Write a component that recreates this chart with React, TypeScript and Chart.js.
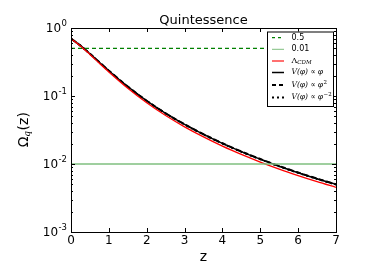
import React, { useEffect, useRef } from "react";
import { Chart, registerables } from "chart.js";

Chart.register(...registerables);

const zValues = [0, 0.25, 0.5, 0.75, 1, 1.5, 2, 2.5, 3, 3.5, 4, 4.5, 5, 5.5, 6, 6.5, 7];
const lcdm = [0.7, 0.544, 0.409, 0.303, 0.226, 0.13, 0.0795, 0.0516, 0.0352, 0.025, 0.0183, 0.01383, 0.01069, 0.00842, 0.00676, 0.0055, 0.00454];
const vPhi = [0.7, 0.55, 0.418, 0.313, 0.235, 0.137, 0.0848, 0.0555, 0.0382, 0.0273, 0.0201, 0.0152, 0.01178, 0.00928, 0.00745, 0.00606, 0.005];
const vPhi2 = [0.7, 0.551, 0.419, 0.314, 0.236, 0.1375, 0.0851, 0.0557, 0.0384, 0.0274, 0.0202, 0.01528, 0.01184, 0.00933, 0.00749, 0.00609, 0.00503];
const vPhiM2 = [0.7, 0.549, 0.417, 0.312, 0.234, 0.1365, 0.0845, 0.0553, 0.038, 0.0272, 0.02, 0.01512, 0.01172, 0.00923, 0.00741, 0.00603, 0.00497];
const level05 = 0.5;
const level001 = 0.01;
const xTicks = [0, 1, 2, 3, 4, 5, 6, 7];
const yExponents = [0, -1, -2, -3];
const legendLabels = ["0.5", "0.01", "ΛCDM", "V(φ) ∝ φ", "V(φ) ∝ φ2", "V(φ) ∝ φ-2"];

const pts = (ys: number[]) => zValues.map((z, i) => ({ x: z, y: ys[i] }));

const overlay = {
  id: "mplOverlay",
  afterDraw(chart: any) {
    const { ctx, chartArea: a, scales } = chart;
    const xs = scales.x;
    const ys = scales.y;
    ctx.save();
    ctx.strokeStyle = "#000";
    ctx.lineWidth = 1;
    ctx.lineCap = "butt";
    ctx.strokeRect(Math.round(a.left) + 0.5, Math.round(a.top) + 0.5, Math.round(a.right - a.left), Math.round(a.bottom - a.top));
    ctx.beginPath();
    for (const t of xTicks) {
      const px = Math.round(xs.getPixelForValue(t)) + 0.5;
      ctx.moveTo(px, a.bottom); ctx.lineTo(px, a.bottom - 4);
      ctx.moveTo(px, a.top); ctx.lineTo(px, a.top + 4);
    }
    for (const e of yExponents) {
      const py = Math.round(ys.getPixelForValue(Math.pow(10, e))) + 0.5;
      ctx.moveTo(a.left, py); ctx.lineTo(a.left + 4, py);
      ctx.moveTo(a.right, py); ctx.lineTo(a.right - 4, py);
      if (e > -3) {
        for (let m = 2; m <= 9; m++) {
          const v = m * Math.pow(10, e - 1);
          const my = Math.round(ys.getPixelForValue(v)) + 0.5;
          ctx.moveTo(a.left, my); ctx.lineTo(a.left + 2, my);
          ctx.moveTo(a.right, my); ctx.lineTo(a.right - 2, my);
        }
      }
    }
    ctx.stroke();
    ctx.fillStyle = "#000";
    ctx.font = "12px 'DejaVu Sans'";
    ctx.textAlign = "center";
    ctx.textBaseline = "top";
    for (const t of xTicks) {
      ctx.fillText(String(t), xs.getPixelForValue(t), a.bottom + 3);
    }
    for (const e of yExponents) {
      const py = ys.getPixelForValue(Math.pow(10, e));
      const sup = String(e);
      ctx.font = "8.5px 'DejaVu Sans'";
      const sw = ctx.measureText(sup).width;
      ctx.textAlign = "left";
      ctx.textBaseline = "middle";
      const supX = a.left - 4 - sw;
      ctx.fillText(sup, supX, py - 4);
      ctx.font = "12px 'DejaVu Sans'";
      ctx.textAlign = "right";
      ctx.fillText("10", supX - 0.5, py + 1);
    }
    ctx.font = "13px 'DejaVu Sans'";
    ctx.textAlign = "center";
    ctx.textBaseline = "alphabetic";
    ctx.fillText("Quintessence", (a.left + a.right) / 2, a.top - 4);
    ctx.font = "14px 'DejaVu Sans'";
    ctx.textBaseline = "middle";
    ctx.fillText("z", (a.left + a.right) / 2, 257);
    ctx.save();
    ctx.translate(24, (a.top + a.bottom) / 2);
    ctx.rotate(-Math.PI / 2);
    ctx.textAlign = "left";
    ctx.textBaseline = "middle";
    ctx.font = "14px 'DejaVu Sans'";
    const om = "Ω";
    const omW = ctx.measureText(om).width;
    ctx.font = "italic 9px 'DejaVu Serif'";
    const qW = ctx.measureText("q").width;
    ctx.font = "14px 'DejaVu Sans'";
    const rest = "(z)";
    const rW = ctx.measureText(rest).width;
    const x0 = -(omW + qW + rW) / 2;
    ctx.fillText(om, x0, 0);
    ctx.font = "italic 9px 'DejaVu Serif'";
    ctx.fillText("q", x0 + omW, 4);
    ctx.font = "14px 'DejaVu Sans'";
    ctx.fillText(rest, x0 + omW + qW + 0.5, 0);
    ctx.restore();

    const lx = 267, ly = 31.5, lw = 66, lh = 74.5;
    ctx.fillStyle = "#fff";
    ctx.fillRect(lx, ly, lw, lh);
    ctx.strokeStyle = "#000";
    ctx.lineWidth = 1;
    ctx.strokeRect(lx + 0.5, ly + 0.5, lw, lh);
    const rows = [37.7, 49.3, 61, 72.5, 85, 97.5];
    const styles = [
      { c: "#008000", w: 1.2, d: [3, 3] },
      { c: "#7fbf7f", w: 1, d: [] },
      { c: "#ff4040", w: 1.5, d: [] },
      { c: "#000", w: 1.5, d: [] },
      { c: "#000", w: 2, d: [4, 3] },
      { c: "#000", w: 2, d: [2, 3] },
    ];
    for (let i = 0; i < rows.length; i++) {
      const s = styles[i];
      ctx.strokeStyle = s.c;
      ctx.lineWidth = s.w;
      ctx.setLineDash(s.d);
      ctx.beginPath();
      ctx.moveTo(272, rows[i]);
      ctx.lineTo(284, rows[i]);
      ctx.stroke();
    }
    ctx.setLineDash([]);
    ctx.fillStyle = "#000";
    ctx.textAlign = "left";
    ctx.textBaseline = "middle";
    const tx = 291.5;
    ctx.font = "8px 'DejaVu Sans'";
    ctx.fillText(legendLabels[0], tx, rows[0]);
    ctx.fillText(legendLabels[1], tx, rows[1]);
    ctx.font = "8px 'DejaVu Serif'";
    ctx.fillText("Λ", tx, rows[2]);
    const lamW = ctx.measureText("Λ").width;
    ctx.font = "italic 5.5px 'DejaVu Serif'";
    ctx.fillText("CDM", tx + lamW, rows[2] + 1.5);
    const mathRow = (y: number, sup: string) => {
      ctx.font = "italic 7.5px 'DejaVu Serif'";
      const base = "V(φ) ∝ φ";
      ctx.fillText(base, tx, y);
      if (sup) {
        const bw = ctx.measureText(base).width;
        ctx.font = "5.5px 'DejaVu Serif'";
        ctx.fillText(sup, tx + bw + 0.5, y - 2.5);
      }
    };
    mathRow(rows[3], "");
    mathRow(rows[4], "2");
    mathRow(rows[5], "−2");
    ctx.restore();
  },
};

export default function App() {
  const ref = useRef<HTMLCanvasElement>(null);
  useEffect(() => {
    const canvas = ref.current!;
    const chart = new Chart(canvas, {
      type: "line",
      data: {
        datasets: [
          { label: legendLabels[0], data: [{ x: 0, y: level05 }, { x: 7, y: level05 }], borderColor: "#008000", borderWidth: 1.2, borderDash: [4, 3], pointRadius: 0 },
          { label: legendLabels[1], data: [{ x: 0, y: level001 }, { x: 7, y: level001 }], borderColor: "#7fbf7f", borderWidth: 1.3, pointRadius: 0 },
          { label: legendLabels[2], data: pts(lcdm), borderColor: "#ff0000", borderWidth: 1.3, pointRadius: 0, cubicInterpolationMode: "monotone" },
          { label: legendLabels[3], data: pts(vPhi), borderColor: "#000", borderWidth: 1.5, pointRadius: 0, cubicInterpolationMode: "monotone" },
          { label: legendLabels[4], data: pts(vPhi2), borderColor: "#000", borderWidth: 2, borderDash: [5, 3], pointRadius: 0, cubicInterpolationMode: "monotone" },
          { label: legendLabels[5], data: pts(vPhiM2), borderColor: "#000", borderWidth: 2, borderDash: [2, 3], pointRadius: 0, cubicInterpolationMode: "monotone" },
        ],
      },
      options: {
        animation: false,
        responsive: false,
        parsing: false as any,
        layout: { padding: { left: 71, right: 38, top: 28, bottom: 48 } },
        plugins: { legend: { display: false }, tooltip: { enabled: false }, title: { display: false } },
        scales: {
          x: { type: "linear", min: 0, max: 7, display: false },
          y: { type: "logarithmic", min: 0.001, max: 1, display: false },
        },
      },
      plugins: [overlay],
    });
    return () => chart.destroy();
  }, []);
  return (
    <div style={{ position: "absolute", left: 0, top: 0, width: 374, height: 280, background: "#fff" }}>
      <canvas ref={ref} width={374} height={280} style={{ display: "block" }} />
    </div>
  );
}
